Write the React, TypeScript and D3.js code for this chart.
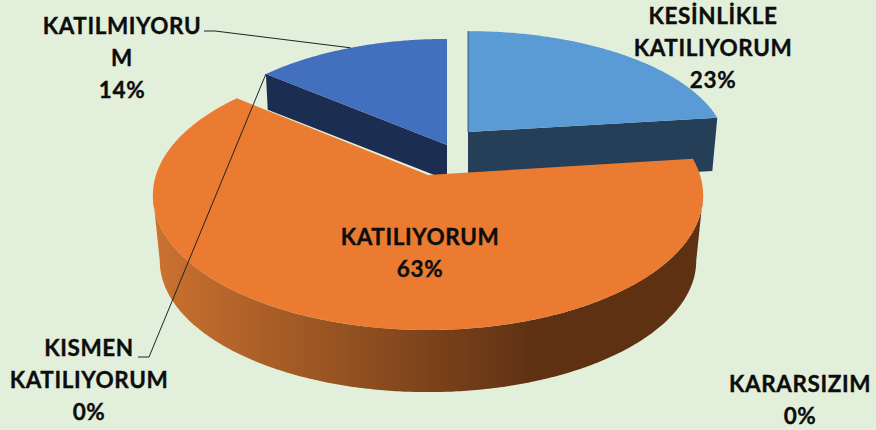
import React from 'react';
import * as d3 from 'd3';

const categories = ['KESİNLİKLE KATILIYORUM', 'KATILIYORUM', 'KISMEN KATILIYORUM', 'KARARSIZIM', 'KATILMIYORUM'];
const percents = [23, 63, 0, 0, 14];

const W = 876;
const H = 430;
const persp = 0.15;

// each slice sits on its own pulled-out apex, drawn with a small perspective
const blueSlice = { ax: 468, ay: 132, rx: 256, ry: 116, depth: 53, base: 0.98 };
const orangeSlice = { ax: 428, ay: 175, rx: 272, ry: 131.75, depth: 66, base: 0.975 };
const navySlice = { ax: 447, ay: 145, rx: 257.5, ry: 122, depth: 35, base: 0.99 };

const arcs = d3.pie<number>().sort(null)(percents);

type Slice = typeof blueSlice;

function project(s: Slice, angle: number, rho = 1, bottom = false): [number, number] {
  const u = Math.sin(angle) * rho;
  const v = Math.cos(angle) * rho;
  const w = 1 + persp * v;
  const k = bottom ? s.base : 1;
  return [s.ax + (s.rx * k * u) / w, s.ay + (bottom ? s.depth : 0) - (s.ry * k * v) / w];
}

function rim(s: Slice, a0: number, a1: number, bottom = false) {
  const n = Math.max(2, Math.ceil(Math.abs(a1 - a0) / 0.01));
  return d3.range(n + 1).map((i) => project(s, a0 + ((a1 - a0) * i) / n, 1, bottom));
}

const line = d3.line();

function face(s: Slice, a0: number, a1: number) {
  return line([project(s, 0, 0), ...rim(s, a0, a1)]) + 'Z';
}

// only the part of the rim between the widest left and right points shows
function wall(s: Slice) {
  const a0 = Math.acos(-persp);
  const a1 = 2 * Math.PI - a0;
  return line([...rim(s, a0, a1), ...rim(s, a1, a0, true)]) + 'Z';
}

function cut(s: Slice, a: number) {
  return line([project(s, 0, 0), project(s, a), project(s, a, 1, true), project(s, 0, 0, true)]) + 'Z';
}

const labelFont = 'Lato, "Noto Sans", sans-serif';

function Label({ x, y, lines }: { x: number; y: number; lines: string[] }) {
  return (
    <text
      x={x}
      y={y}
      textAnchor="middle"
      fontFamily={labelFont}
      fontWeight={700}
      fontSize={22.5}
      letterSpacing={0.6}
      fill="#0d0d0d"
      stroke="#0d0d0d"
      strokeWidth={0.35}
    >
      {lines.map((l, i) => (
        <tspan key={i} x={x} dy={i === 0 ? 0 : 32}>
          {l}
        </tspan>
      ))}
    </text>
  );
}

export default function App() {
  const blue = arcs[0];
  const orange = arcs[1];
  const navy = arcs[4];
  const navyMid = (navy.startAngle + navy.endAngle) / 2;

  const leaderTop = line([[204, 31], [215, 31], project(navySlice, navyMid)]);
  const leaderBottom = line([[138, 357], [149, 357], project(navySlice, navy.startAngle)]);

  const pct = (i: number) => `${percents[i]}%`;

  return (
    <svg width={W} height={H} style={{ position: 'fixed', left: 0, top: 0, background: '#e2efda' }}>
      <defs>
        <linearGradient id="orangeWall" gradientUnits="userSpaceOnUse" x1={153} x2={535} y1={0} y2={0}>
          <stop offset="0" stopColor="#cb7230" />
          <stop offset="1" stopColor="#5e3113" />
        </linearGradient>
      </defs>

      <path d={cut(navySlice, navy.startAngle)} fill="#1b2d50" />
      <path d={face(navySlice, navy.startAngle, navy.endAngle)} fill="#4270bf" />

      <path d={cut(blueSlice, blue.endAngle)} fill="#243f57" />
      <path d={face(blueSlice, blue.startAngle, blue.endAngle)} fill="#5b9bd5" />
      <path d={line([project(blueSlice, 0), project(blueSlice, 0, 0)]) ?? ''} stroke="#243f57" strokeWidth={0.8} fill="none" />

      <path d={wall(orangeSlice)} fill="url(#orangeWall)" />
      <path d={face(orangeSlice, orange.startAngle, orange.endAngle)} fill="#eb7b30" />

      <path d={leaderTop ?? ''} fill="none" stroke="#222" strokeWidth={1} />
      <path d={leaderBottom ?? ''} fill="none" stroke="#222" strokeWidth={1} />

      <Label x={713} y={24} lines={['KESİNLİKLE', 'KATILIYORUM', pct(0)]} />
      <Label x={420} y={245} lines={[categories[1], pct(1)]} />
      <Label x={122} y={34} lines={['KATILMIYORU', 'M', pct(4)]} />
      <Label x={89} y={356} lines={['KISMEN', 'KATILIYORUM', pct(2)]} />
      <Label x={800} y={392} lines={[categories[3], pct(3)]} />
    </svg>
  );
}
